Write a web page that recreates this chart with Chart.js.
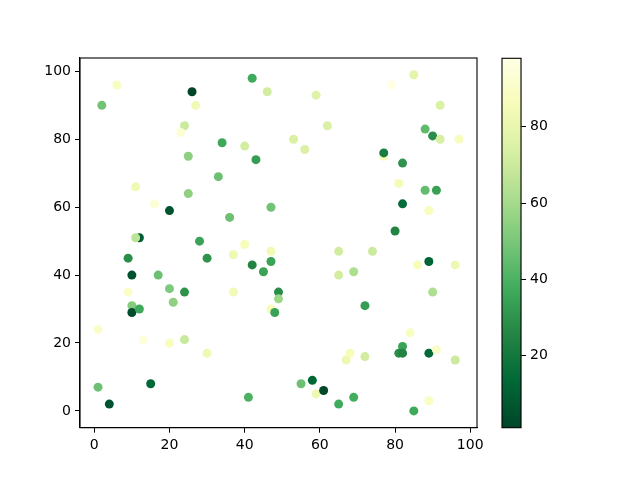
<!DOCTYPE html>
<html>
<head>
<meta charset="utf-8">
<script src="https://cdn.jsdelivr.net/npm/chart.js@4"></script>
<style>
html,body{margin:0;padding:0;background:#fff;}
#wrap{position:relative;width:640px;height:480px;}
canvas{position:absolute;left:0;top:0;}
</style>
</head>
<body>
<div id="wrap">
<canvas id="sc" width="640" height="480"></canvas>
<canvas id="cb" width="640" height="480"></canvas>
</div>
<script>
const xs = [1,1,4,2,6,9,10,9,10,10,12,12,11,11,13,15,16,17,20,20,21,20,24,23,24,24,25,25,26,27,28,30,30,33,34,36,37,37,40,40,41,42,43,42,45,46,47,47,47,47,48,49,49,53,56,59,62,55,58,59,61,65,69,65,65,69,68,67,72,72,74,77,77,79,81,80,82,82,84,82,81,82,85,86,85,88,90,92,97,92,88,91,89,89,90,89,91,89,96,96];
const ys = [24,7,2,90,96,45,40,35,31,29,30,51,51,66,21,8,61,40,59,36,32,20,84,82,35,21,75,64,94,90,50,45,17,69,79,57,46,35,78,49,4,98,74,43,41,94,60,47,44,30,29,35,33,80,77,93,84,8,9,5,6,2,4,47,40,41,17,15,16,31,47,75,76,96,67,53,73,61,23,19,17,17,0,43,99,83,81,80,80,90,65,65,59,44,35,17,18,3,43,15];
const cs = [90,47,6,48,88,28,5,90,52,4,37,9,66,83,95,13,93,47,6,51,55,87,70,93,30,69,54,55,1,84,35,30,83,47,36,47,83,84,72,86,40,37,33,25,35,72,48,84,35,86,35,28,58,74,75,76,74,47,13,82,2,37,38,72,72,62,86,82,72,33,70,86,22,98,85,25,30,15,88,35,28,25,37,86,78,44,28,73,87,74,45,34,87,12,62,14,90,88,82,70];
const xTicks = [0,20,40,60,80,100];
const yTicks = [0,20,40,60,80,100];
const cbTicks = [20,40,60,80];

// YlGn reversed (dark -> light)
const cmapStops = ['#004529','#006837','#238443','#41ab5d','#78c679','#addd8e','#d9f0a3','#f7fcb9','#ffffe5'];
function hex2rgb(h){return [parseInt(h.slice(1,3),16),parseInt(h.slice(3,5),16),parseInt(h.slice(5,7),16)];}
const stopRgb = cmapStops.map(hex2rgb);
function cmap(t){
  t=Math.max(0,Math.min(1,t));
  const p=t*(stopRgb.length-1);
  const i=Math.min(Math.floor(p),stopRgb.length-2);
  const f=p-i;
  const a=stopRgb[i],b=stopRgb[i+1];
  return 'rgb('+[0,1,2].map(k=>Math.round(a[k]+(b[k]-a[k])*f)).join(',')+')';
}
const vmin = Math.min(...cs), vmax = Math.max(...cs);
const pointColors = cs.map(v=>cmap((v-vmin)/(vmax-vmin)));

const FONT = {family:'DejaVu Sans', size:14};
const frame = {
  id:'frame',
  afterDraw(chart){
    const {ctx, chartArea:a} = chart;
    ctx.save();
    ctx.strokeStyle='#000';
    ctx.lineWidth=1.1;
    ctx.strokeRect(a.left, a.top, a.right-a.left, a.bottom-a.top);
    ctx.restore();
  }
};

new Chart(document.getElementById('sc'), {
  type:'scatter',
  data:{datasets:[{
    data: xs.map((x,i)=>({x:x,y:ys[i]})),
    pointBackgroundColor: pointColors,
    pointBorderWidth: 0,
    pointRadius: 4.5,
    pointHoverRadius: 4.5
  }]},
  options:{
    responsive:false, animation:false, devicePixelRatio:1,
    layout:{padding:{left:0, top:58, right:163, bottom:22.3}},
    plugins:{legend:{display:false}, tooltip:{enabled:false}},
    scales:{
      x:{type:'linear', min:-3.8, max:101.8,
        afterBuildTicks(s){s.ticks = xTicks.map(v=>({value:v}));},
        afterFit(s){s.height=30;},
        grid:{drawOnChartArea:false, drawTicks:true, tickLength:5, color:'#000', lineWidth:1},
        border:{display:true, color:'#000', width:1.1},
        ticks:{color:'#000', font:FONT, padding:4, maxRotation:0}
      },
      y:{type:'linear', min:-4.95, max:103.95,
        afterBuildTicks(s){s.ticks = yTicks.map(v=>({value:v}));},
        afterFit(s){s.width=80;},
        grid:{drawOnChartArea:false, drawTicks:true, tickLength:5, color:'#000', lineWidth:1},
        border:{display:true, color:'#000', width:1.1},
        ticks:{color:'#000', font:FONT, padding:4}
      }
    }
  },
  plugins:[frame]
});

new Chart(document.getElementById('cb'), {
  type:'bar',
  data:{labels:['c'], datasets:[{
    data:[[vmin, vmax]],
    backgroundColor(ctx){
      const ch = ctx.chart, a = ch.chartArea;
      if(!a) return '#78c679';
      const g = ch.ctx.createLinearGradient(0, a.bottom, 0, a.top);
      cmapStops.forEach((c,i)=>g.addColorStop(i/(cmapStops.length-1), c));
      return g;
    },
    borderWidth:0,
    barPercentage:1, categoryPercentage:1
  }]},
  options:{
    responsive:false, animation:false, devicePixelRatio:1,
    layout:{padding:{left:502, top:58.3, right:79, bottom:52.3}},
    plugins:{legend:{display:false}, tooltip:{enabled:false}},
    scales:{
      x:{display:false},
      y:{type:'linear', position:'right', min:vmin, max:vmax,
        afterBuildTicks(s){s.ticks = cbTicks.map(v=>({value:v}));},
        afterFit(s){s.width=40;},
        grid:{drawOnChartArea:false, drawTicks:true, tickLength:5, color:'#000', lineWidth:1},
        border:{display:true, color:'#000', width:1.1},
        ticks:{color:'#000', font:FONT, padding:4}
      }
    }
  },
  plugins:[frame]
});
</script>
</body>
</html>
